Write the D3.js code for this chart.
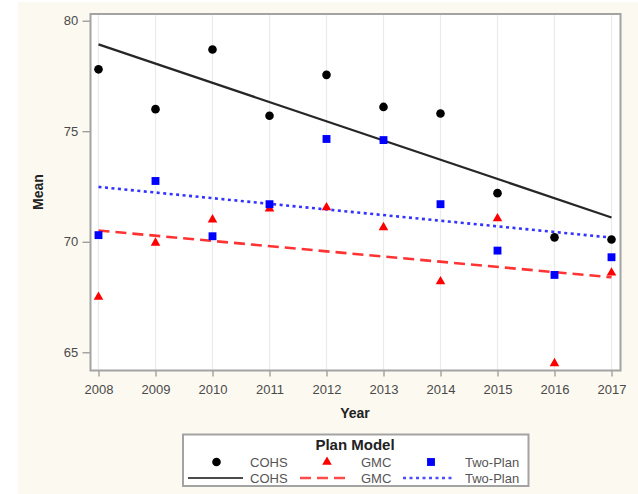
<!DOCTYPE html>
<html>
<head>
<meta charset="utf-8">
<script src="https://cdn.jsdelivr.net/npm/d3@7"></script>
<style>
  html, body { margin: 0; padding: 0; background: #ffffff; }
  svg { display: block; font-family: "Liberation Sans", Arial, sans-serif; }
</style>
</head>
<body>
<svg id="chart" width="638" height="494"></svg>
<script>
// Yearly means per plan model
const years = [2008, 2009, 2010, 2011, 2012, 2013, 2014, 2015, 2016, 2017];
const cohs = [77.8, 76.0, 78.7, 75.7, 77.55, 76.1, 75.8, 72.2, 70.2, 70.1];
const gmc = [67.5, 69.95, 71.0, 71.5, 71.55, 70.65, 68.2, 71.05, 64.5, 68.6];
const twoPlan = [70.3, 72.75, 70.25, 71.7, 74.65, 74.6, 71.7, 69.6, 68.5, 69.3];
const yTicks = [65, 70, 75, 80];
const seriesNames = ["COHS", "GMC", "Two-Plan"];

const svg = d3.select("#chart");

// Page panel
svg.append("rect").attr("x", 18).attr("y", 2).attr("width", 620).attr("height", 492)
  .attr("fill", "#fcf9f1");

const frame = { left: 90.5, top: 14, right: 620.5, bottom: 370.5 };

const x = d3.scaleLinear().domain([2008, 2017]).range([98.5, 611.5]);
const y = d3.scaleLinear().domain([65, 80]).range([352.3, 20.7]);

// Plot background
svg.append("rect")
  .attr("x", frame.left).attr("y", frame.top)
  .attr("width", frame.right - frame.left).attr("height", frame.bottom - frame.top)
  .attr("fill", "#ffffff");

// Vertical grid
svg.append("g").selectAll("line").data(years).join("line")
  .attr("x1", d => x(d)).attr("x2", d => x(d))
  .attr("y1", frame.top).attr("y2", frame.bottom)
  .attr("stroke", "#ebebeb").attr("stroke-width", 1.2);

// Axes
const axisColor = "#8f8f8f";
const xAxis = svg.append("g").attr("transform", `translate(0,${frame.bottom})`)
  .call(d3.axisBottom(x).tickValues(years).tickFormat(d3.format("d")).tickSize(6).tickSizeOuter(0));
const yAxis = svg.append("g").attr("transform", `translate(${frame.left},0)`)
  .call(d3.axisLeft(y).tickValues(yTicks).tickSize(8).tickSizeOuter(0));
[xAxis, yAxis].forEach(g => {
  g.select(".domain").remove();
  g.selectAll(".tick line").attr("stroke", axisColor).attr("stroke-width", 1.2);
  g.selectAll(".tick text").attr("fill", "#4a4a4a").style("font-size", "13px");
});
xAxis.selectAll(".tick text").attr("dy", "1.15em");
yAxis.selectAll(".tick text").attr("dx", "-0.1em");

// Frame
svg.append("rect")
  .attr("x", frame.left).attr("y", frame.top)
  .attr("width", frame.right - frame.left).attr("height", frame.bottom - frame.top)
  .attr("fill", "none").attr("stroke", "#a3a3a3").attr("stroke-width", 2);

// Axis titles
svg.append("text").attr("x", 355).attr("y", 418).attr("text-anchor", "middle")
  .style("font-size", "14px").style("font-weight", "bold").attr("fill", "#222")
  .text("Year");
svg.append("text").attr("transform", "translate(43,192) rotate(-90)").attr("text-anchor", "middle")
  .style("font-size", "14px").style("font-weight", "bold").attr("fill", "#222")
  .text("Mean");

// Least-squares fit of a series against year
function fit(vals) {
  const mx = d3.mean(years), my = d3.mean(vals);
  const sxy = d3.sum(years, (d, i) => (d - mx) * (vals[i] - my));
  const sxx = d3.sum(years, d => (d - mx) * (d - mx));
  const b = sxy / sxx, a = my - b * mx;
  return [years[0], years[years.length - 1]].map(t => ({ year: t, value: a + b * t }));
}

const styles = {
  "COHS": { color: "#000000", dash: null, width: 2.2, symbol: d3.symbolCircle, size: 58 },
  "GMC": { color: "#ff0000", dash: "11,6", width: 2.6, symbol: d3.symbolTriangle, size: 40 },
  "Two-Plan": { color: "#0000ff", dash: "3,3.5", width: 2.6, symbol: d3.symbolSquare, size: 62 }
};
const data = { "COHS": cohs, "GMC": gmc, "Two-Plan": twoPlan };

const line = d3.line().x(d => x(d.year)).y(d => y(d.value));

// Fit lines
seriesNames.forEach(name => {
  const s = styles[name];
  svg.append("path").datum(fit(data[name])).attr("d", line)
    .attr("fill", "none").attr("stroke", s.color).attr("stroke-width", s.width)
    .attr("stroke-dasharray", s.dash).attr("opacity", name === "COHS" ? 0.85 : 0.8);
});

// Points
seriesNames.forEach(name => {
  const s = styles[name];
  svg.append("g").selectAll("path").data(data[name]).join("path")
    .attr("transform", (d, i) => `translate(${x(years[i])},${y(d)})`)
    .attr("d", d3.symbol().type(s.symbol).size(s.size))
    .attr("fill", s.color);
});

// Legend
const lg = svg.append("g");
lg.append("rect").attr("x", 183).attr("y", 434.5).attr("width", 345.5).attr("height", 51.5)
  .attr("fill", "#ffffff").attr("stroke", "#a3a3a3").attr("stroke-width", 2);
lg.append("text").attr("x", 355).attr("y", 449.5).attr("text-anchor", "middle")
  .style("font-size", "15px").style("font-weight", "bold").attr("fill", "#222")
  .text("Plan Model");

const markerX = [216.5, 327, 431];
const textX = [250, 361, 465];
const lineX = [[188, 243], [300, 350], [403, 454]];
seriesNames.forEach((name, i) => {
  const s = styles[name];
  lg.append("path").attr("transform", `translate(${markerX[i]},462)`)
    .attr("d", d3.symbol().type(s.symbol).size(s.size)).attr("fill", s.color);
  lg.append("text").attr("x", textX[i]).attr("y", 466.5)
    .style("font-size", "13px").attr("fill", "#555").text(name);
  lg.append("line").attr("x1", lineX[i][0]).attr("x2", lineX[i][1]).attr("y1", 478).attr("y2", 478)
    .attr("stroke", s.color).attr("stroke-width", s.width).attr("stroke-dasharray", s.dash)
    .attr("opacity", 0.7);
  lg.append("text").attr("x", textX[i]).attr("y", 482.5)
    .style("font-size", "13px").attr("fill", "#555").text(name);
});
</script>
</body>
</html>
